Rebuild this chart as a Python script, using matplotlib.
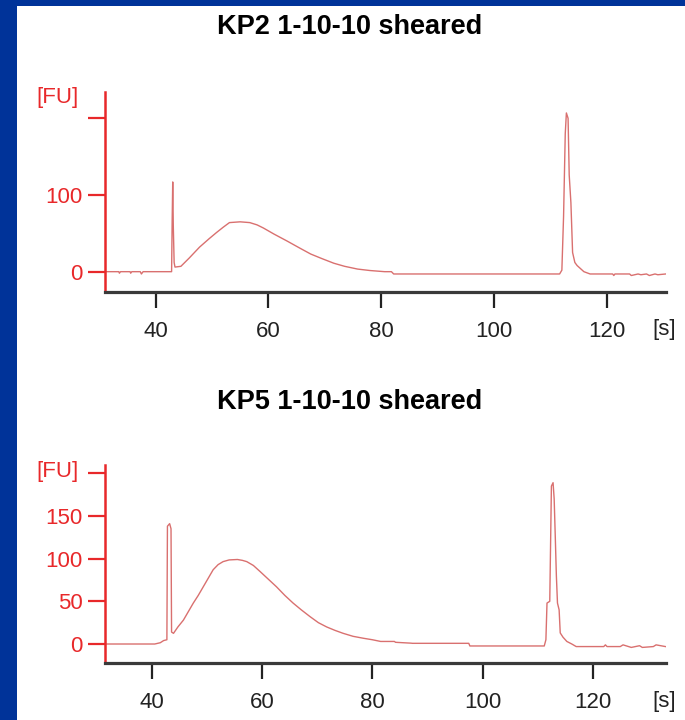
import numpy as np
import matplotlib.pyplot as plt
from matplotlib.patches import Rectangle

plt.rcParams["font.family"] = ["Liberation Sans", "DejaVu Sans"]

# KP2 electropherogram (time in s, signal in FU)
kp2_time = [31.1, 33.5, 33.6, 33.8, 35.5, 35.6, 35.8, 37.3, 37.5, 37.8, 42.85,
            42.95, 43.05, 43.15, 43.3, 43.45, 44.5, 46.0, 47.8, 49.5, 50.8, 52.0,
            53.1, 55.0, 56.7, 58.0, 59.1, 61.0, 63.3, 65.5, 67.5, 69.5, 71.6, 73.5,
            75.8, 78.0, 80.6, 81.8, 82.2, 111.6, 112.0, 112.3, 112.6, 112.8, 113.1,
            113.3, 113.6, 113.9, 114.3, 114.7, 115.9, 117.0, 121.0, 121.2, 121.4,
            124.0, 124.3, 125.5, 126.0, 127.0, 127.5, 128.5, 129.0, 130.4]
kp2_fu = [0, 0, -2, 0, 0, -2, 0, 0, -3, 0, 0,
          66, 117, 60, 12, 6, 7, 18, 32, 43, 51, 58,
          64, 65, 64, 61, 57, 49, 40, 31, 23, 17, 11, 7,
          3.4, 1.5, 0, 0, -3, -3, 2, 72, 180, 207, 200,
          126, 90, 25, 12, 8, 0, -3, -3, -5, -3,
          -3, -5, -3, -4, -3, -5, -3, -4, -3]

# KP5 electropherogram
kp5_time = [31.4, 40.5, 41.5, 42.1, 42.7, 42.8, 43.2, 43.45, 43.55, 43.9, 44.7,
            45.7, 46.6, 47.5, 48.4, 49.3, 50.2, 51.1, 52.0, 52.9, 54.0, 55.5,
            56.4, 57.2, 58.4, 59.6, 61.1, 62.6, 64.1, 65.6, 67.1, 68.7, 70.2,
            71.7, 73.2, 74.7, 76.5, 78.4, 80.0, 81.5, 84.0, 84.2, 85.6, 87.0,
            87.3, 97.5, 97.7, 111.2, 111.5, 111.7, 112.2, 112.5, 112.8, 113.0,
            113.2, 113.4, 113.6, 113.9, 114.1, 114.6, 115.3, 116.2, 117.0, 122.0,
            122.3, 122.6, 125.0, 125.5, 126.5, 127.0, 128.5, 129.0, 131.0, 131.5,
            133.2]
kp5_fu = [0, 0, 1.5, 4, 5, 138, 141, 135, 14, 12.5, 20,
          28, 38, 48, 57, 67, 77, 87, 93, 96.5, 98.5, 99,
          98, 96.5, 92, 85, 76, 67, 57, 48, 40, 32, 25,
          20, 16, 12.5, 9, 6.7, 5, 3, 3, 2, 1.5, 1,
          0.8, 0.8, -2.3, -2.3, 5, 48, 50, 185, 189, 170,
          126, 80, 48, 40, 13, 8, 3, 0, -3, -3,
          -1, -3, -3, -1, -3, -4, -2, -4, -3, -1,
          -3]

panels = [
    ("KP2 1-10-10 sheared", kp2_time, kp2_fu, [0, 100, 200], ["0", "100", ""]),
    ("KP5 1-10-10 sheared", kp5_time, kp5_fu, [0, 50, 100, 150, 200],
     ["0", "50", "100", "150", ""]),
]
x_ticks = [40, 60, 80, 100, 120]

W, H = 685, 720
red = "#e8282a"
trace = "#d9706f"

fig = plt.figure(figsize=(W / 100, H / 100), dpi=100)
fig.patch.set_facecolor("#003399")
fig.add_artist(Rectangle((17 / W, 0), 1 - 17 / W, (H - 6) / H,
                         transform=fig.transFigure, facecolor="white",
                         edgecolor="none", zorder=0))

# pixel boxes: left, bottom(from top), right, top(from top)
boxes = [(105, 292, 666, 92), (104.8, 663.3, 666, 465)]
xlims = [(31.05, 130.45), (31.43, 133.3)]
ylims = [(-26.5, 234.3), (-22.6, 209.7)]
title_y = [34, 409]
fu_y = [98, 471]
s_y = [330, 702]

for i, (title, t, fu, yt, ytl) in enumerate(panels):
    l, b, r, tp = boxes[i]
    ax = fig.add_axes([l / W, 1 - b / H, (r - l) / W, (b - tp) / H])
    ax.patch.set_alpha(0)
    ax.plot(t, fu, color=trace, lw=1.0)
    ax.set_xlim(*xlims[i])
    ax.set_ylim(*ylims[i])
    ax.set_xticks(x_ticks)
    ax.set_yticks(yt)
    ax.set_yticklabels(ytl)
    for s in ["top", "right"]:
        ax.spines[s].set_visible(False)
    ax.spines["left"].set_color(red)
    ax.spines["left"].set_linewidth(1.8)
    ax.spines["bottom"].set_color("#3a3a3a")
    ax.spines["bottom"].set_linewidth(2.3)
    ax.tick_params(axis="y", colors=red, labelcolor=red, length=12, width=1.6,
                   pad=4, labelsize=16)
    ax.tick_params(axis="x", colors="#222222", length=11.5, width=1.6,
                   pad=9.5, labelsize=16)

    fig.text(350 / W, 1 - title_y[i] / H, title, ha="center", va="baseline",
             fontsize=19.5, fontweight="bold", color="black")
    fig.text(57.5 / W, 1 - fu_y[i] / H, "[FU]", ha="center", va="center",
             fontsize=16, color=red)
    fig.text(664 / W, 1 - s_y[i] / H, "[s]", ha="center", va="center",
             fontsize=16, color="#222222")

fig.savefig("out.png", dpi=100, facecolor=fig.get_facecolor())
